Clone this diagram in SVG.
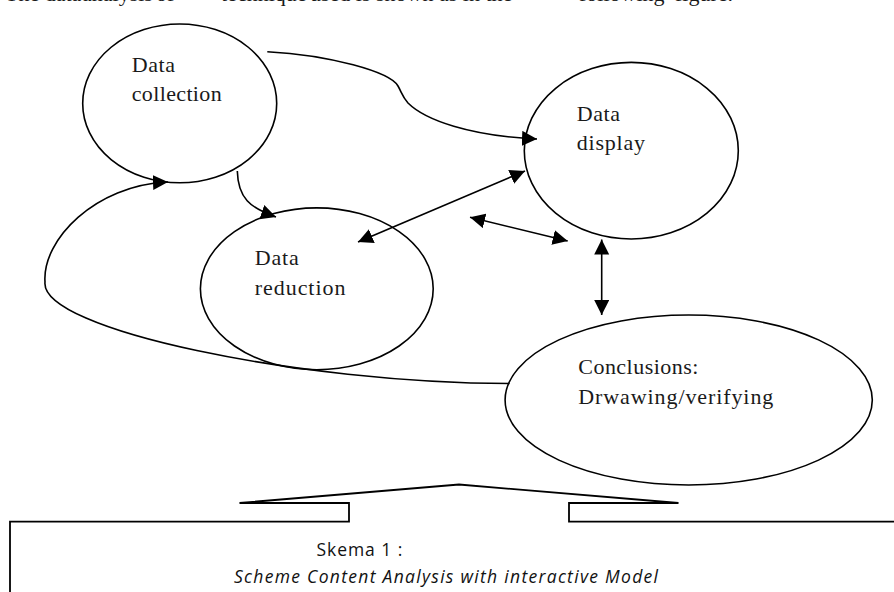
<svg xmlns="http://www.w3.org/2000/svg" width="894" height="592" viewBox="0 0 894 592">
<style>
.node{fill:#fff;stroke:#000;stroke-width:1.6}
.lbl{font-family:"Liberation Serif",serif;font-size:22px;fill:#1a1a1a}
.con{fill:none;stroke:#000;stroke-width:1.6}
.cap{font-family:"Open Sans","Liberation Sans",sans-serif;font-size:17.5px;fill:#111}
</style>
<defs>
<marker id="ah" markerUnits="userSpaceOnUse" markerWidth="16" markerHeight="16" refX="15" refY="7.5" orient="auto-start-reverse">
<path d="M0,0 L15,7.5 L0,15 z" fill="#000"/>
</marker>
</defs>
<rect width="894" height="592" fill="#fff"/>
<text class="lbl" y="1" font-size="21"><tspan x="5">The data</tspan><tspan x="82">analysis</tspan><tspan x="156">of</tspan><tspan x="221">technique</tspan><tspan x="310">used is shown as in the</tspan><tspan x="579">following</tspan><tspan x="675">figure.</tspan></text>
<g id="data-collection">
<ellipse class="node" cx="179.7" cy="103.4" rx="97" ry="79.4"/>
<text class="lbl" x="131.7" y="72.3" textLength="43.3">Data</text>
<text class="lbl" x="131.7" y="101" textLength="90">collection</text>
</g>
<g id="data-display">
<ellipse class="node" cx="631.3" cy="150.7" rx="107" ry="88.3"/>
<text class="lbl" x="576.7" y="121" textLength="43.3">Data</text>
<text class="lbl" x="576.7" y="150" textLength="68.3">display</text>
</g>
<g id="data-reduction">
<ellipse class="node" cx="316.8" cy="288.8" rx="116.4" ry="80.9"/>
<text class="lbl" x="254.8" y="265.4" textLength="44">Data</text>
<text class="lbl" x="254.8" y="295.3" textLength="90.6">reduction</text>
</g>
<g id="conclusions">
<ellipse class="node" cx="688.7" cy="400" rx="183.6" ry="85"/>
<text class="lbl" x="578.3" y="374" textLength="120">Conclusions:</text>
<text class="lbl" x="578.3" y="403.5" textLength="195">Drwawing/verifying</text>
</g>
<g id="connectors">
<path class="con" d="M267.3,51.7 C330,55 390,72 398,86 C402,93 402,96 408,103 C425,120 470,136 537,139" marker-end="url(#ah)"/>
<path class="con" d="M237.3,171 C238,198 250,208 276,217" marker-end="url(#ah)"/>
<path class="con" d="M509.6,383.5 C300,383 40,330 45,282 C42,240 95,185 168,182" marker-end="url(#ah)"/>
<line class="con" x1="358" y1="242" x2="525" y2="171" marker-start="url(#ah)" marker-end="url(#ah)"/>
<line class="con" x1="470" y1="217.3" x2="567.7" y2="241" marker-start="url(#ah)" marker-end="url(#ah)"/>
<line class="con" x1="601.7" y1="239.5" x2="601.7" y2="315" marker-start="url(#ah)" marker-end="url(#ah)"/>
</g>
<g id="caption">
<path d="M10,592 L10,521.7 L349,521.7 L349,503 L239.5,503 L459,484.5 L678.5,503 L569,503 L569,521.7 L894,521.7" fill="none" stroke="#000" stroke-width="1.8"/>
<text class="cap" x="316.4" y="556" textLength="86">Skema 1 :</text>
<text class="cap" x="234" y="583" font-style="italic" textLength="424">Scheme Content Analysis with interactive Model</text>
</g>
</svg>
